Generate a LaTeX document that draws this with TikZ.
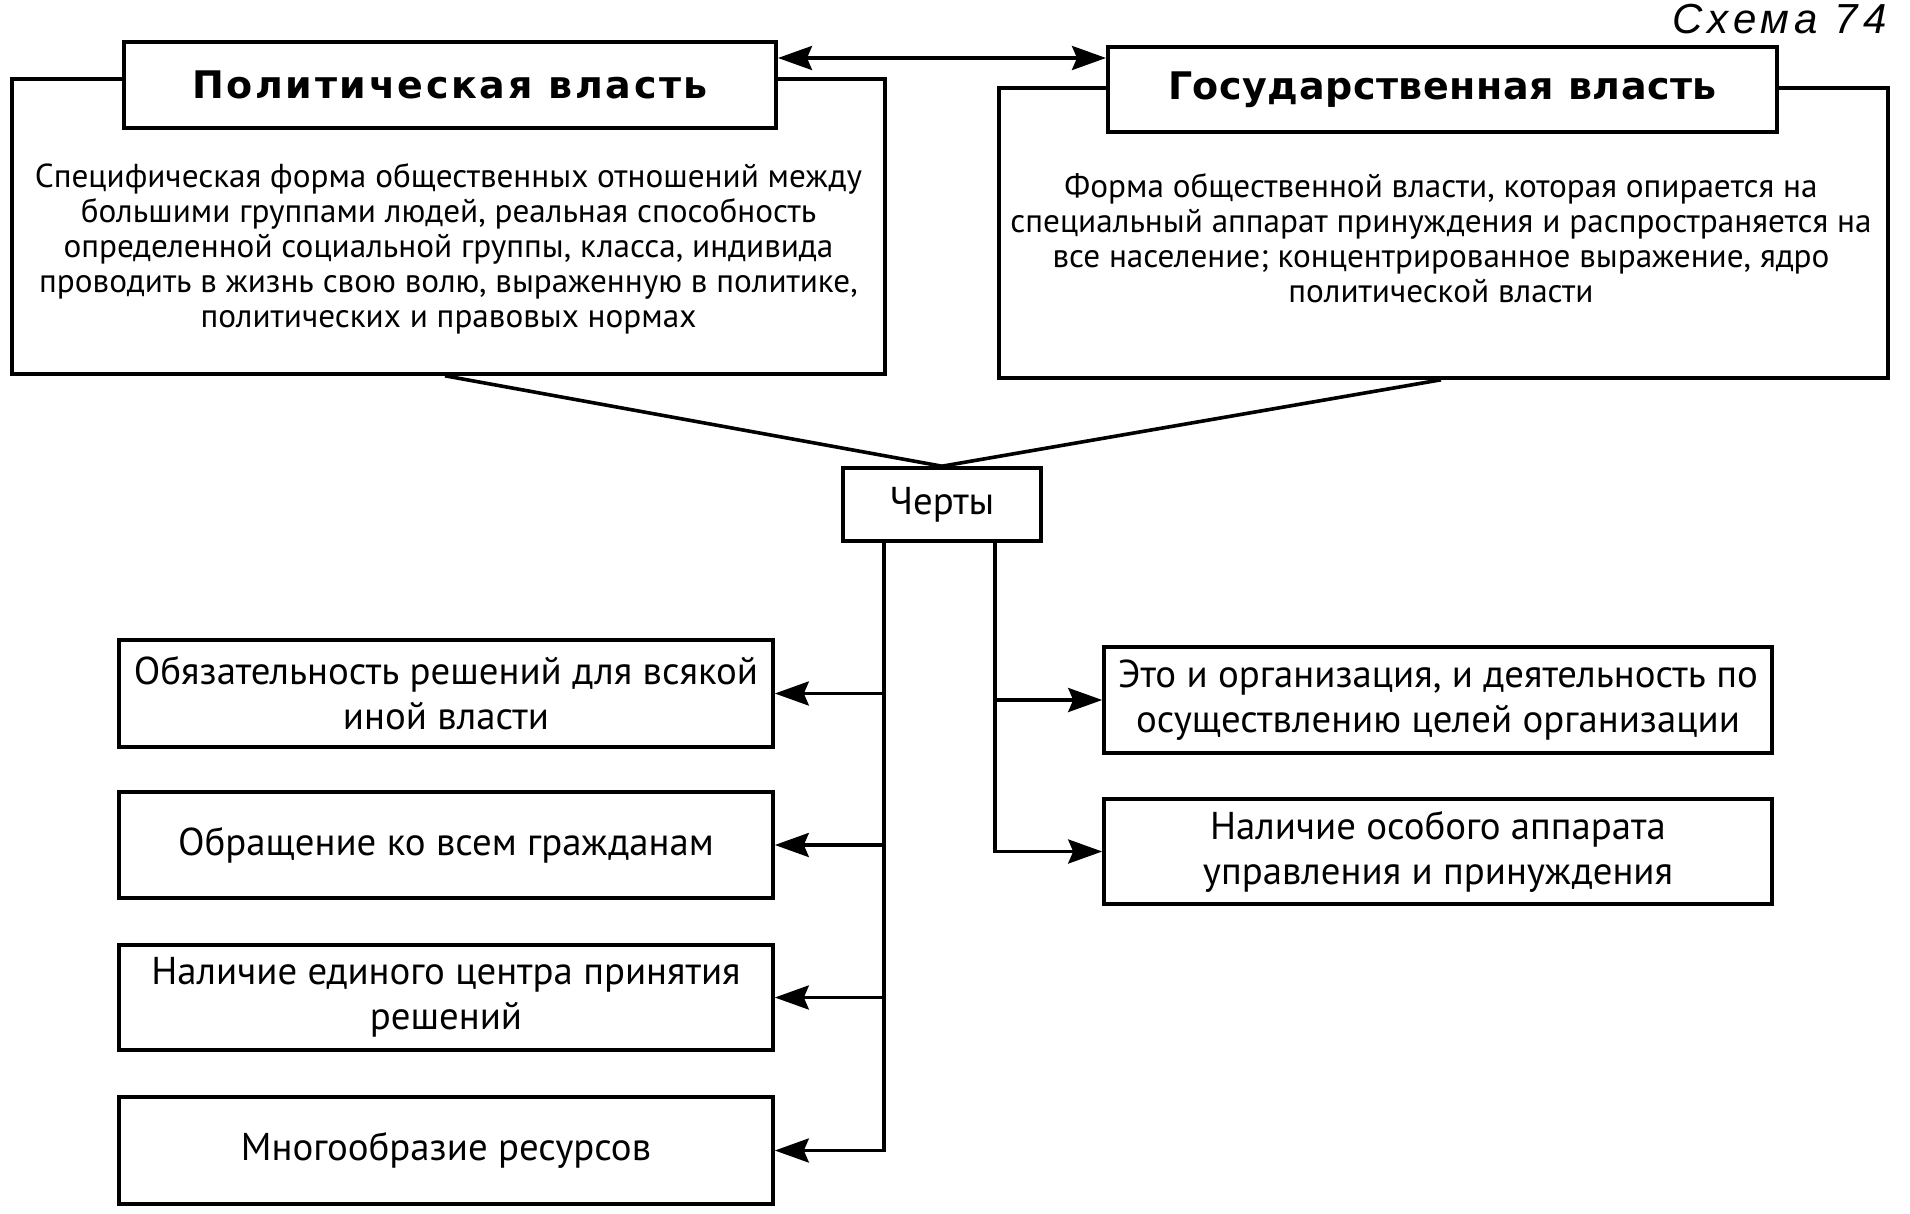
\documentclass[tikz,border=0pt]{standalone}
\usepackage{fontspec}
\setmainfont{PT Sans}
\newfontfamily\poltitlefont{DejaVu Sans}[LetterSpace=7]
\newfontfamily\gostitlefont{DejaVu Sans}[LetterSpace=1.5]
\newfontfamily\schemefont{Liberation Sans}[LetterSpace=12]
\usetikzlibrary{arrows.meta,calc}
\begin{document}
\begin{tikzpicture}[x=0.5pt,y=-0.5pt,
  box/.style={draw,line width=1.8pt,inner sep=0pt,align=center,fill=white},
  titlebox/.style={box,line width=2pt},
  bodytext/.style={align=center,inner sep=0pt,font=\fontsize{16.6}{17.5}\selectfont},
  feat/.style={box,font=\fontsize{19.4}{22.5}\selectfont},
  conn/.style={line width=1.8pt},
  tip/.style={},
  arr/.style={line width=1.8pt,-{Stealth[length=17pt,width=12pt,inset=2.5pt]}},
  darr/.style={line width=1.8pt,{Stealth[length=17pt,width=12pt,inset=2.5pt]}-{Stealth[length=17pt,width=12pt,inset=2.5pt]}}
]
\useasboundingbox (0,0) rectangle (1910,1214);
% big boxes
\node[box,minimum width=436.5pt,minimum height=147.5pt] (polbig) at (448.5,226.5) {};
\node[box,minimum width=444.5pt,minimum height=145pt] (gosbig) at (1443.5,233) {};
% title boxes
\node[titlebox,minimum width=326pt,minimum height=43pt,font=\poltitlefont\bfseries\fontsize{19}{22}\selectfont] (pol) at (450,85) {Политическая власть};
\node[titlebox,minimum width=334.5pt,minimum height=42.5pt,font=\gostitlefont\bfseries\fontsize{19}{22}\selectfont] (gos) at (1442.5,89.5) {Государственная власть};
% body texts
\node[bodytext] (poltext) at (448.5,249) {Специфическая форма общественных отношений между\\большими группами людей, реальная способность\\определенной социальной группы, класса, индивида\\проводить в жизнь свою волю, выраженную в политике,\\политических и правовых нормах};
\node[bodytext] (gostext) at (1441,238) {Форма общественной власти, которая опирается на\\специальный аппарат принуждения и распространяется на\\все население; концентрированное выражение, ядро\\политической власти};
% scheme label
\node[anchor=east,inner sep=0pt,font=\schemefont\itshape\fontsize{21}{24}\selectfont] (scheme) at (1887,19) {Схема 74};
% double arrow
\draw[darr] ($(pol.north east)!0.2!(pol.south east)$) -- (gos.west |- {$(pol.north east)!0.2!(pol.south east)$});
% Черты
\node[box,minimum width=99pt,minimum height=36.5pt,font=\fontsize{19.4}{22.5}\selectfont] (cherty) at (942,504.5) {Черты};
\coordinate (pb) at (445,374);
\coordinate (gb) at (1441,378);
\draw[conn] (pb |- polbig.south) -- (cherty.north);
\draw[conn] (gb |- gosbig.south) -- (cherty.north);
% feature boxes left
\node[feat,minimum width=327pt,minimum height=53.5pt] (b1) at (446,693.5) {Обязательность решений для всякой\\иной власти};
\node[feat,minimum width=327pt,minimum height=53pt] (b2) at (446,845) {Обращение ко всем гражданам};
\node[feat,minimum width=327pt,minimum height=52.5pt] (b3) at (446,997.5) {Наличие единого центра принятия\\решений};
\node[feat,minimum width=327pt,minimum height=53.5pt] (b4) at (446,1150.5) {Многообразие ресурсов};
% feature boxes right
\node[feat,minimum width=334pt,minimum height=53pt] (r1) at (1438,700) {Это и организация, и деятельность по\\осуществлению целей организации};
\node[feat,minimum width=334pt,minimum height=52.5pt] (r2) at (1438,851.5) {Наличие особого аппарата\\управления и принуждения};
% trunks
\coordinate (tl) at (884,541);
\coordinate (tr) at (995,541);
\draw[arr] (tl) |- (b1.east);
\draw[arr] (tl) |- (b2.east);
\draw[arr] (tl) |- (b3.east);
\draw[arr] (tl) |- (b4.east);
\draw[arr] (tr) |- (r1.west);
\draw[arr] (tr) |- (r2.west);
\end{tikzpicture}
\end{document}
